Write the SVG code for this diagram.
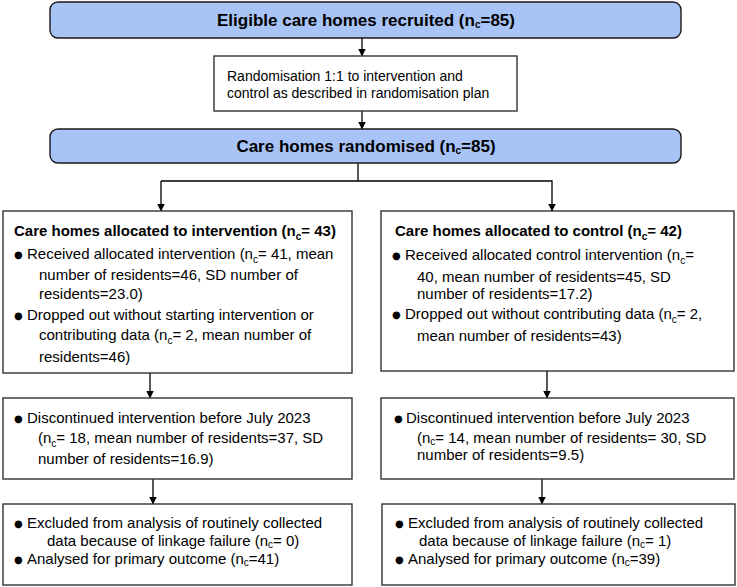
<svg xmlns="http://www.w3.org/2000/svg" width="737" height="587" viewBox="0 0 737 587">
<style>
.blue{fill:#a8c4f6;stroke:#1a1a1a;stroke-width:1.4}
.box{fill:#fff;stroke:#333;stroke-width:1.4}
text{font-family:"Liberation Sans",Arial,sans-serif;fill:#000}
.h{font-size:17px;font-weight:bold;text-anchor:middle}
.t{font-size:15px;font-weight:bold}
.b{font-size:15px}
.r{font-size:14px}
.s{font-size:10px}
.bu{font-size:10px;font-family:"DejaVu Sans",sans-serif}
.con{fill:none;stroke:#000;stroke-width:1.3}
</style>
<defs>
<marker id="ah" markerWidth="8" markerHeight="8" refX="7.5" refY="4" orient="auto" markerUnits="userSpaceOnUse">
<path d="M0,0 L8,4 L0,8 z" fill="#000"/>
</marker>
</defs>
<g id="connectors">
<line class="con" x1="362" y1="38" x2="362" y2="56" marker-end="url(#ah)"/>
<line class="con" x1="362" y1="111" x2="362" y2="129" marker-end="url(#ah)"/>
<polyline class="con" points="358,163 358,181"/>
<polyline class="con" points="161,181 552,181 552,211" marker-end="url(#ah)"/>
<line class="con" x1="161" y1="181" x2="161" y2="211" marker-end="url(#ah)"/>
<line class="con" x1="150" y1="373" x2="150" y2="398" marker-end="url(#ah)"/>
<line class="con" x1="153" y1="479" x2="153" y2="504" marker-end="url(#ah)"/>
<line class="con" x1="547" y1="371" x2="547" y2="398" marker-end="url(#ah)"/>
<line class="con" x1="542" y1="479" x2="542" y2="504" marker-end="url(#ah)"/>
</g>
<g id="recruited">
<rect class="blue" x="50" y="2" width="631" height="36" rx="8"/>
<text class="h" x="366" y="26">Eligible care homes recruited (n<tspan class="s" dy="2">c</tspan><tspan dy="-2">=85)</tspan></text>
</g>
<g id="randomisation">
<rect class="box" x="214" y="56" width="303" height="55"/>
<text class="r" x="227" y="81">Randomisation 1:1 to intervention and</text>
<text class="r" x="227" y="98">control as described in randomisation plan</text>
</g>
<g id="randomised">
<rect class="blue" x="50" y="129" width="631" height="34" rx="8"/>
<text class="h" x="366" y="152">Care homes randomised (n<tspan class="s" dy="2">c</tspan><tspan dy="-2">=85)</tspan></text>
</g>
<g id="alloc-int">
<rect class="box" x="3" y="211" width="349" height="162"/>
<text class="t" x="14" y="236">Care homes allocated to intervention (n<tspan class="s" dy="4">c</tspan><tspan dy="-4">= 43)</tspan></text>
<text class="b" y="259"><tspan class="bu" x="14" dy="-1">●</tspan><tspan x="27" dy="1">Received allocated intervention (n</tspan><tspan class="s" dy="4">c</tspan><tspan dy="-4">= 41, mean</tspan></text>
<text class="b" x="39" y="280">number of residents=46, SD number of</text>
<text class="b" x="39" y="299">residents=23.0)</text>
<text class="b" y="320"><tspan class="bu" x="14" dy="-1">●</tspan><tspan x="27" dy="1">Dropped out without starting intervention or</tspan></text>
<text class="b" x="39" y="340">contributing data (n<tspan class="s" dy="4">c</tspan><tspan dy="-4">= 2, mean number of</tspan></text>
<text class="b" x="39" y="362">residents=46)</text>
</g>
<g id="alloc-ctrl">
<rect class="box" x="381" y="211" width="353" height="160"/>
<text class="t" x="395" y="236">Care homes allocated to control (n<tspan class="s" dy="4">c</tspan><tspan dy="-4">= 42)</tspan></text>
<text class="b" y="260"><tspan class="bu" x="392" dy="-1">●</tspan><tspan x="405" dy="1">Received allocated control intervention (n</tspan><tspan class="s" dy="4">c</tspan><tspan dy="-4">=</tspan></text>
<text class="b" x="417" y="282">40, mean number of residents=45, SD</text>
<text class="b" x="417" y="299">number of residents=17.2)</text>
<text class="b" y="319"><tspan class="bu" x="392" dy="-1">●</tspan><tspan x="405" dy="1">Dropped out without contributing data (n</tspan><tspan class="s" dy="4">c</tspan><tspan dy="-4">= 2,</tspan></text>
<text class="b" x="417" y="341">mean number of residents=43)</text>
</g>
<g id="disc-int">
<rect class="box" x="3" y="398" width="349" height="81"/>
<text class="b" y="423"><tspan class="bu" x="14" dy="-1">●</tspan><tspan x="27" dy="1">Discontinued intervention before July 2023</tspan></text>
<text class="b" x="38" y="443">(n<tspan class="s" dy="4">c</tspan><tspan dy="-4">= 18, mean number of residents=37, SD</tspan></text>
<text class="b" x="38" y="464">number of residents=16.9)</text>
</g>
<g id="disc-ctrl">
<rect class="box" x="381" y="398" width="353" height="81"/>
<text class="b" y="423"><tspan class="bu" x="394" dy="-1">●</tspan><tspan x="406" dy="1">Discontinued intervention before July 2023</tspan></text>
<text class="b" x="417" y="443">(n<tspan class="s" dy="2">c</tspan><tspan dy="-2">= 14, mean number of residents= 30, SD</tspan></text>
<text class="b" x="417" y="460">number of residents=9.5)</text>
</g>
<g id="anal-int">
<rect class="box" x="3" y="504" width="349" height="81"/>
<text class="b" y="528"><tspan class="bu" x="14" dy="-1">●</tspan><tspan x="27" dy="1">Excluded from analysis of routinely collected</tspan></text>
<text class="b" x="47" y="546">data because of linkage failure (n<tspan class="s" dy="2">c</tspan><tspan dy="-2">= 0)</tspan></text>
<text class="b" y="564"><tspan class="bu" x="14" dy="-1">●</tspan><tspan x="27" dy="1">Analysed for primary outcome (n</tspan><tspan class="s" dy="2">c</tspan><tspan dy="-2">=41)</tspan></text>
</g>
<g id="anal-ctrl">
<rect class="box" x="382" y="504" width="353" height="81"/>
<text class="b" y="528"><tspan class="bu" x="395" dy="-1">●</tspan><tspan x="408" dy="1">Excluded from analysis of routinely collected</tspan></text>
<text class="b" x="419" y="546">data because of linkage failure (n<tspan class="s" dy="2">c</tspan><tspan dy="-2">= 1)</tspan></text>
<text class="b" y="564"><tspan class="bu" x="395" dy="-1">●</tspan><tspan x="408" dy="1">Analysed for primary outcome (n</tspan><tspan class="s" dy="2">c</tspan><tspan dy="-2">=39)</tspan></text>
</g>
</svg>
